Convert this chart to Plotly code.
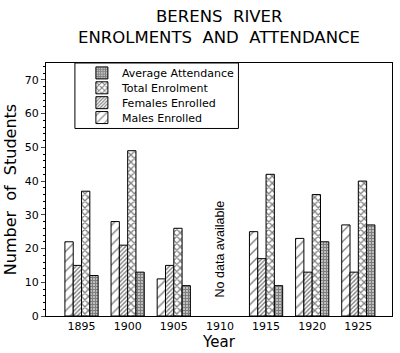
import plotly.graph_objects as go

years = ["1895", "1900", "1905", "1910", "1915", "1920", "1925"]
males = [22, 28, 11, None, 25, 23, 27]
females = [15, 21, 15, None, 17, 13, 13]
total = [37, 49, 26, None, 42, 36, 40]
average = [12, 13, 9, None, 9, 22, 27]

title_lines = ["BERENS RIVER", "ENROLMENTS AND ATTENDANCE"]
note_text = "No data available"

xpos = list(range(len(years)))
FONT = "DejaVu Sans, Liberation Sans, sans-serif"
FONT2 = "Liberation Sans, Arial, sans-serif"

# plot-area geometry (pixels) for placing legend rows
L, R, T, B = 46, 7, 63, 35
PW, PH = 400 - L - R, 353 - T - B

series = [
    ("Males Enrolled", males, dict(shape="/", size=7, solidity=0.2)),
    ("Females Enrolled", females, dict(shape="/", size=3, solidity=0.45)),
    ("Total Enrolment", total, dict(shape="x", size=5, solidity=0.45)),
    ("Average Attendance", average, dict(shape="+", size=3, solidity=0.8)),
]
legend_rows_px = [118, 103, 88, 73]  # row centres, males at bottom

fig = go.Figure()
legend_layout = {}
for i, ((name, vals, pat), ypx) in enumerate(zip(series, legend_rows_px)):
    lname = "legend" if i == 0 else f"legend{i + 1}"
    fig.add_trace(go.Bar(
        x=xpos, y=vals, name=name, legend=lname,
        marker=dict(color="white", line=dict(color="black", width=1),
                    pattern=dict(fgcolor="black", bgcolor="white", fillmode="overlay", **pat)),
    ))
    legend_layout[lname] = dict(
        x=(82 - L) / PW, y=1 - (ypx - T) / PH, xanchor="left", yanchor="middle",
        bgcolor="rgba(0,0,0,0)", borderwidth=0, font=dict(family=FONT, size=11),
        itemwidth=30, tracegroupgap=0)

# legend frame
fig.add_shape(type="rect", xref="paper", yref="paper",
              x0=(75 - L) / PW, x1=(239 - L) / PW, y0=1 - (129 - T) / PH, y1=1,
              line=dict(color="black", width=1), fillcolor="white", layer="below")

fig.add_annotation(x=3.0, y=20, xref="x", yref="y", text=note_text,
                   textangle=-90, showarrow=False, font=dict(family=FONT2, size=12.5, color="black"))

for txt, ypx in zip(title_lines, [16, 37]):
    fig.add_annotation(x=0.5, xref="paper", y=1 + (T - ypx) / PH, yref="paper",
                       text=txt.replace(" ", "&nbsp;&nbsp;"), showarrow=False,
                       xanchor="center", yanchor="middle",
                       font=dict(family=FONT, size=16.5, color="black"))

fig.update_layout(
    width=400, height=353,
    margin=dict(l=L, r=R, t=T, b=B),
    paper_bgcolor="white", plot_bgcolor="white",
    barmode="group", bargap=0.28, bargroupgap=0,
    font=dict(family=FONT, size=11, color="black"),
    showlegend=True,
    xaxis=dict(tickmode="array", tickvals=xpos, ticktext=years, range=[-0.77, 6.73],
               showline=True, linecolor="black", linewidth=1, mirror=True, ticks="",
               showgrid=False, zeroline=False,
               title=dict(text="Year", font=dict(family=FONT, size=15), standoff=2),
               tickfont=dict(family=FONT, size=11)),
    yaxis=dict(range=[0, 75], dtick=10, tick0=0, showline=True, linecolor="black", linewidth=1,
               mirror=True, ticks="outside", ticklen=4, showgrid=False, zeroline=False,
               minor=dict(dtick=2, ticks="outside", ticklen=2, tickcolor="black"),
               title=dict(text="Number&nbsp;&nbsp;of&nbsp;&nbsp;Students", font=dict(family=FONT, size=16), standoff=4),
               tickfont=dict(family=FONT, size=11)),
    **legend_layout,
)

fig.write_html("out.html")
